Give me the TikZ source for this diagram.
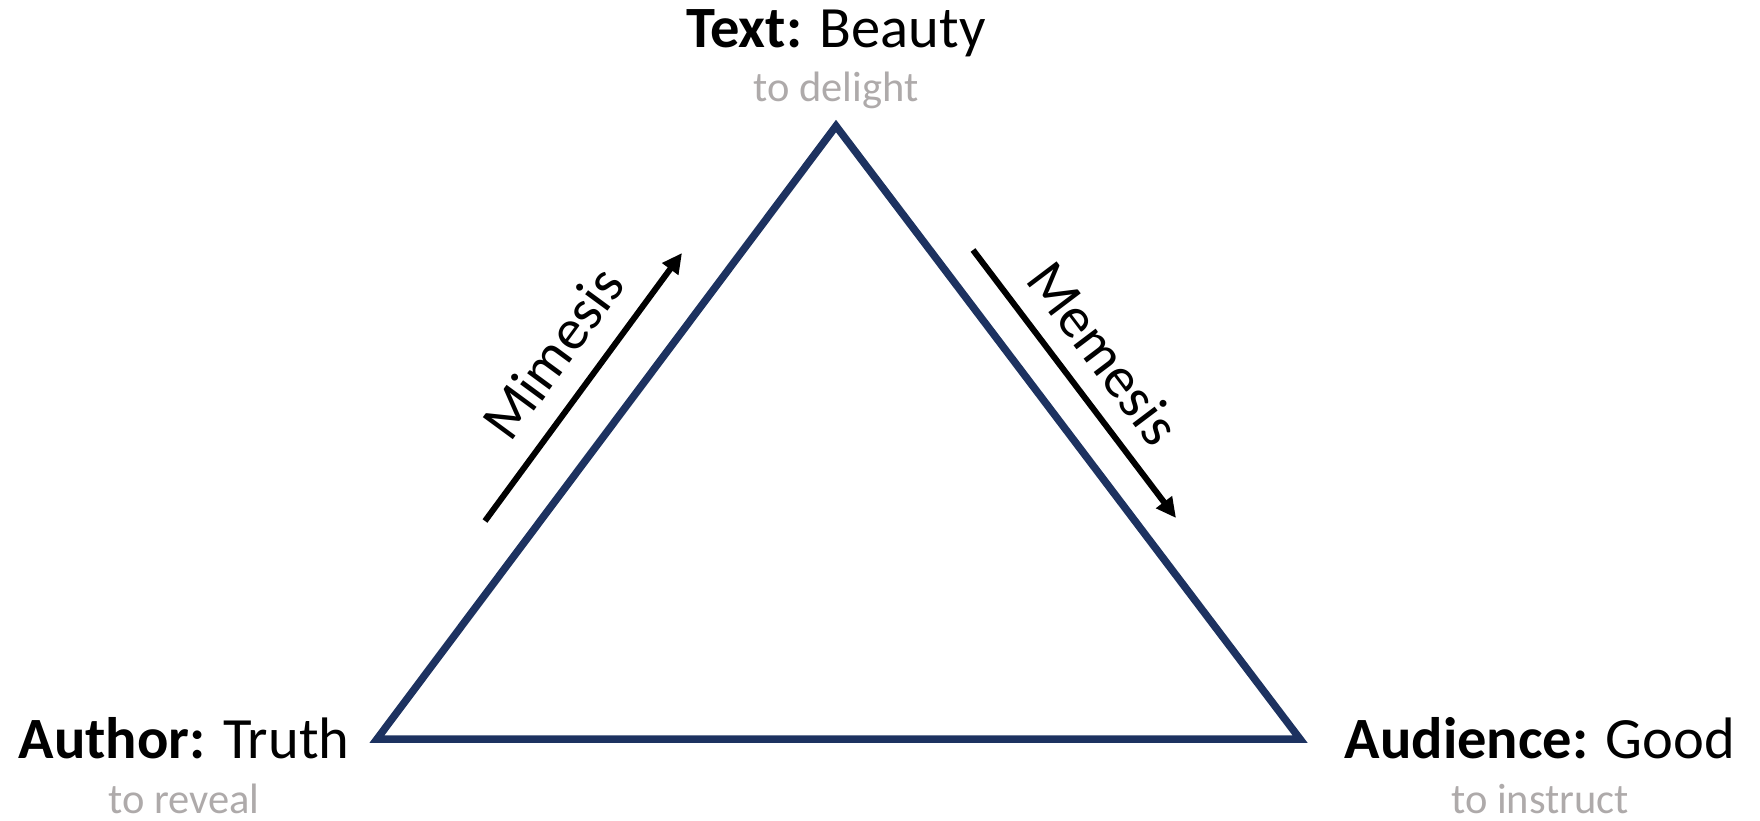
\documentclass[tikz,border=0pt]{standalone}
\usepackage{fontspec}
\setmainfont{Carlito}
\usetikzlibrary{arrows.meta}
\definecolor{navy}{HTML}{1D3260}
\definecolor{subgray}{HTML}{AEAAAA}
\tikzset{
  mainlbl/.style={anchor=base, inner sep=0pt, font=\fontsize{58.5}{64}\selectfont},
  sublbl/.style={anchor=base, inner sep=0pt, text=subgray, font=\fontsize{42.5}{48}\selectfont},
  flowlbl/.style={inner sep=0pt, font=\fontsize{58}{64}\selectfont},
  tri/.style={draw=navy, line width=7.5pt, line join=miter},
  flow/.style={line width=6pt, -{Triangle[length=20pt,width=19pt]}}
}
\begin{document}
\begin{tikzpicture}[x=1pt,y=-1pt]
\useasboundingbox (0,0) rectangle (1760,821);
\coordinate (T) at (836,126);
\coordinate (A) at (377,739);
\coordinate (U) at (1300,739);
\draw[tri] (T) -- (A) -- (U) -- cycle;
\node[mainlbl] (tl) at (836,48) {\textbf{Text:} Beauty};
\node[sublbl] (ts) at (836,102) {to delight};
\node[mainlbl] (al) at (184,758) {\textbf{Author:} Truth};
\node[sublbl] (as) at (184,813) {to reveal};
\node[mainlbl] (ul) at (1540,758) {\textbf{Audience:} Good};
\node[sublbl] (us) at (1540,813) {to instruct};
\coordinate (m1) at (485,521);
\coordinate (m2) at (682,253);
\coordinate (n1) at (973,250);
\coordinate (n2) at (1176,518);
\draw[flow] (m1) -- (m2);
\draw[flow] (n1) -- (n2);
\node[flowlbl, rotate=53.7] (mim) at (553,353) {Mimesis};
\node[flowlbl, rotate=-52.9] (mem) at (1104,353) {Memesis};
\end{tikzpicture}
\end{document}
